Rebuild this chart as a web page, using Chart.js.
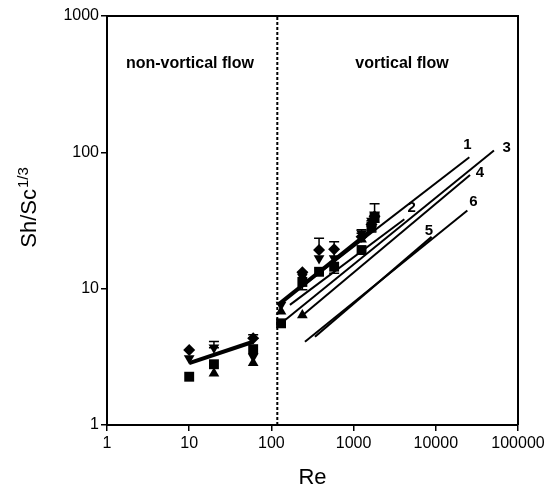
<!DOCTYPE html>
<html><head><meta charset="utf-8">
<script src="https://cdn.jsdelivr.net/npm/chart.js@4/dist/chart.umd.min.js"></script>
<style>html,body{margin:0;padding:0;background:#fff}</style>
</head><body>
<canvas id="c" width="548" height="492"></canvas>
<script>
// ---- data ----
const reVals      = [10, 20, 60, 131, 238, 380, 580, 1250, 1650, 1800];
const squareY     = [2.26, 2.79, 3.6, 5.57, 11.2, 13.3, 14.5, 19.2, 28.5, 33.5];
const triUpY      = [null, 2.39, 2.85, 6.8, 6.4, null, null, 23, 30, 32];
const triDownY    = [3.08, 3.69, 3.17, 7.6, 12.2, 16.7, 16.7, 25.5, 31.5, 35];
const diamondY    = [3.55, null, 4.33, null, 13.2, 19.2, 19.5, 24, 29.5, 34];

const errRe = [20, 60, 238, 380, 580, 1250, 1650, 1800];
const errLo = [3.69, 4.33, 9.8, 19.2, 13.0, 25.5, 26, 33.5];
const errHi = [4.1, 4.6, 13.2, 23.4, 22.1, 27, 31.5, 42];

const fitNonRe = [10, 60];     const fitNonY = [2.84, 4.08];
const fitVorRe = [127, 1800];  const fitVorY = [7.8, 28];

const line1Re = [127, 25600]; const line1Y = [7.8, 92];
const line2Re = [168, 4140];  const line2Y = [7.6, 32.3];
const line3Re = [142, 51000]; const line3Y = [5.8, 103];
const line4Re = [242, 26100]; const line4Y = [6.4, 68.3];
const line5Re = [339, 8900];  const line5Y = [4.44, 24];
const line6Re = [256, 24200]; const line6Y = [4.08, 37.4];

const boundaryRe = 118;
const yRange = [1, 1000];

const lineLabels   = ['1', '2', '3', '4', '5', '6'];
const lineLabelRe  = [24200, 5090, 72900, 34500, 8260, 28600];
const lineLabelY   = [113, 38.9, 107, 70.3, 26.7, 43.5];

const regionText = ['non-vortical flow', 'vortical flow'];
const regionRe   = [10.2, 3880];
const regionY    = [444, 444];

const xTicks = [1, 10, 100, 1000, 10000, 100000];
const yTicks = [1, 10, 100, 1000];
const xTitle = 'Re';
const yTitleMain = 'Sh/Sc';
const yTitleSup = '1/3';

// ---- build ----
const pts = (xs, ys) => xs.map((x, i) => ({x: x, y: ys[i]})).filter(p => p.y !== null);
const FONT = "'Liberation Sans', Arial, sans-serif";

function lineDs(xs, ys, w, dash) {
  return {data: pts(xs, ys), showLine: true, borderColor: '#000', borderWidth: w,
          borderDash: dash || [], pointRadius: 0, fill: false, tension: 0};
}
function markDs(ys, style, r, rot) {
  return {data: pts(reVals, ys), showLine: false, pointStyle: style, pointRadius: r,
          pointRotation: rot || 0, backgroundColor: '#000', borderColor: '#000', borderWidth: 0};
}

const overlay = {
  id: 'overlay',
  afterDatasetsDraw(chart) {
    const ctx = chart.ctx, xs = chart.scales.x, ys = chart.scales.y, a = chart.chartArea;
    ctx.save();
    // error bars
    ctx.strokeStyle = '#000'; ctx.lineWidth = 1.5;
    errRe.forEach((r, i) => {
      const px = xs.getPixelForValue(r);
      const p1 = ys.getPixelForValue(errLo[i]), p2 = ys.getPixelForValue(errHi[i]);
      ctx.beginPath();
      ctx.moveTo(px, p1); ctx.lineTo(px, p2);
      ctx.moveTo(px - 5, p1); ctx.lineTo(px + 5, p1);
      ctx.moveTo(px - 5, p2); ctx.lineTo(px + 5, p2);
      ctx.stroke();
    });
    // frame top/right
    ctx.lineWidth = 2;
    ctx.beginPath();
    ctx.moveTo(a.left, a.top); ctx.lineTo(a.right, a.top); ctx.lineTo(a.right, a.bottom);
    ctx.stroke();
    // line labels
    ctx.fillStyle = '#000';
    ctx.textAlign = 'center'; ctx.textBaseline = 'middle';
    ctx.font = 'bold 15px ' + FONT;
    lineLabels.forEach((t, i) => {
      ctx.fillText(t, xs.getPixelForValue(lineLabelRe[i]), ys.getPixelForValue(lineLabelY[i]));
    });
    ctx.font = 'bold 16px ' + FONT;
    regionText.forEach((t, i) => {
      ctx.fillText(t, xs.getPixelForValue(regionRe[i]), ys.getPixelForValue(regionY[i]));
    });
    // axis titles
    ctx.font = '22px ' + FONT;
    ctx.textBaseline = 'middle';
    ctx.fillText(xTitle, (a.left + a.right) / 2, 478);
    ctx.translate(28, 208);
    ctx.rotate(-Math.PI / 2);
    ctx.textAlign = 'left'; ctx.textBaseline = 'alphabetic';
    const mainF = '22px ' + FONT, supF = '15px ' + FONT;
    ctx.font = mainF; const w1 = ctx.measureText(yTitleMain).width;
    ctx.font = supF; const w2 = ctx.measureText(yTitleSup).width;
    const x0 = -(w1 + w2) / 2;
    ctx.font = mainF; ctx.fillText(yTitleMain, x0, 8);
    ctx.font = supF; ctx.fillText(yTitleSup, x0 + w1 + 1, 0);
    ctx.restore();
  }
};

const axisCommon = {
  type: 'logarithmic',
  grid: {drawOnChartArea: false, drawTicks: true, tickLength: 6, color: '#000', lineWidth: 1.5},
  border: {display: true, color: '#000', width: 2},
  ticks: {color: '#000', font: {family: FONT, size: 16}, autoSkip: false, maxRotation: 0,
          callback: v => String(v)}
};

new Chart(document.getElementById('c'), {
  type: 'scatter',
  data: {
    datasets: [
      markDs(squareY, 'rect', 7),
      markDs(triUpY, 'triangle', 6.2),
      markDs(triDownY, 'triangle', 6.2, 180),
      markDs(diamondY, 'rectRot', 6),
      lineDs(fitNonRe, fitNonY, 4),
      lineDs(fitVorRe, fitVorY, 4),
      lineDs(line1Re, line1Y, 2),
      lineDs(line2Re, line2Y, 2),
      lineDs(line3Re, line3Y, 2),
      lineDs(line4Re, line4Y, 2),
      lineDs(line5Re, line5Y, 2.2),
      lineDs(line6Re, line6Y, 2),
      lineDs([boundaryRe, boundaryRe], yRange, 2, [3, 2])
    ]
  },
  options: {
    responsive: false, animation: false,
    layout: {padding: {top: 16, right: 30, left: 0, bottom: 0}},
    plugins: {legend: {display: false}, tooltip: {enabled: false}},
    scales: {
      x: Object.assign({}, axisCommon, {
        min: 1, max: 100000, position: 'bottom',
        afterBuildTicks: s => { s.ticks = xTicks.map(v => ({value: v})); },
        afterFit: s => { s.height = 67; },
        ticks: Object.assign({}, axisCommon.ticks, {padding: 3})
      }),
      y: Object.assign({}, axisCommon, {
        min: 1, max: 1000, position: 'left',
        afterBuildTicks: s => { s.ticks = yTicks.map(v => ({value: v})); },
        afterFit: s => { s.width = 107; },
        ticks: Object.assign({}, axisCommon.ticks, {padding: 2})
      })
    }
  },
  plugins: [overlay]
});
</script>
</body></html>
